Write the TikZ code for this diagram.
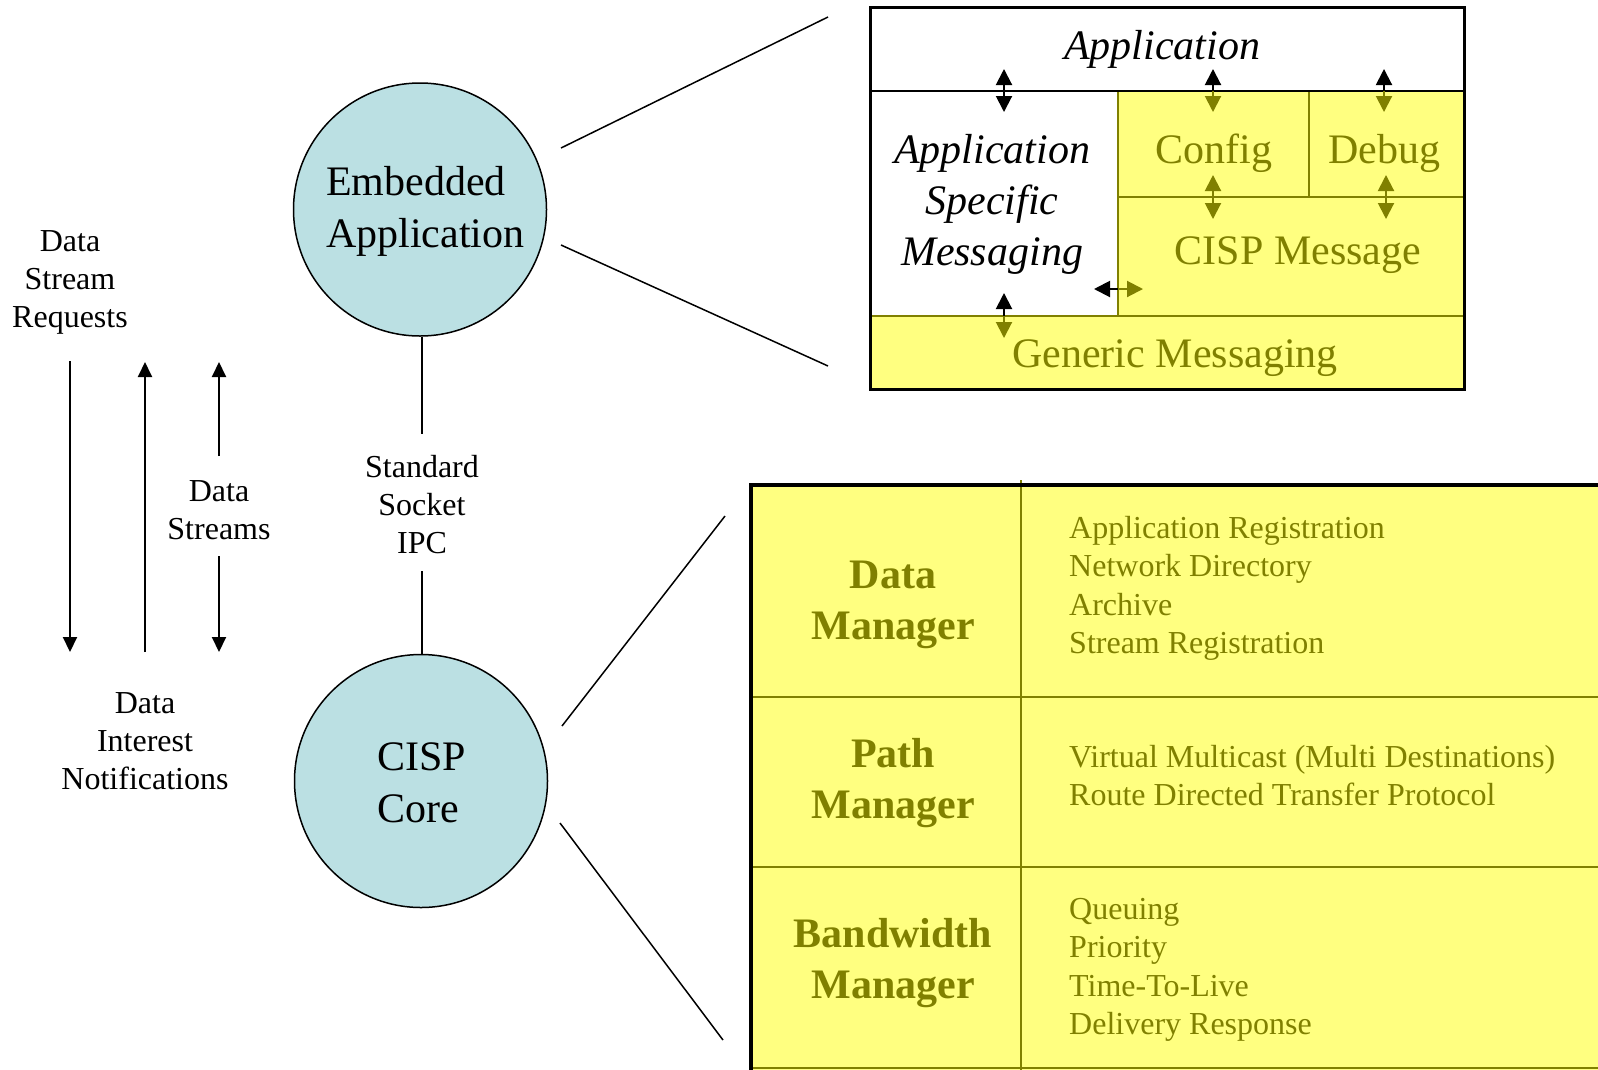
\documentclass[tikz,border=0pt]{standalone}
\usepackage{fontspec}
\setmainfont{Liberation Serif}
\usetikzlibrary{arrows.meta}

\definecolor{olivetext}{RGB}{128,128,0}
\definecolor{paleyellow}{RGB}{255,255,128}
\definecolor{paleblue}{RGB}{187,224,227}

\tikzset{
  lbl/.style={inner sep=0pt, align=center, font=\fontsize{32}{38}\selectfont},
  big/.style={inner sep=0pt, align=center, font=\fontsize{42}{51}\selectfont},
  bigit/.style={big, font=\fontsize{42}{51}\selectfont\itshape},
  olivebig/.style={big, text=olivetext},
  mgr/.style={inner sep=0pt, align=center, text=olivetext, font=\fontsize{42}{51}\selectfont\bfseries},
  items/.style={inner sep=0pt, align=left, anchor=north west, text=olivetext, font=\fontsize{32}{38.5}\selectfont},
  bubble/.style={circle, draw=black, line width=1.5pt, fill=paleblue, minimum size=253pt, inner sep=0pt},
  bubbletext/.style={inner sep=0pt, align=left, font=\fontsize{42}{52}\selectfont},
  thin/.style={line width=1.5pt},
  flow/.style={line width=2pt, -{Triangle[width=14pt,length=15pt]}},
  small/.style={line width=2pt, -{Triangle[width=16pt,length=16pt]}},
  cellline/.style={draw=olivetext, line width=1.5pt},
}

\begin{document}
\begin{tikzpicture}[x=1pt, y=-1pt]
  \useasboundingbox (0,0) rectangle (1598,1069);
  \clip (0,0) rectangle (1598,1069);

  % ---------- the two processes ----------
  \node[bubble] (emb) at (420,209.5) {};
  \node[bubbletext, anchor=west] (embtxt) at (326,211) {Embedded\\Application};
  \node[bubble] (core) at (421,781) {};
  \node[bubbletext, anchor=west] (coretxt) at (377,783) {CISP\\Core};

  % socket link between them
  \node[lbl] (ipc) at (422,505) {Standard\\Socket\\IPC};
  \coordinate (ipctop) at (422,434);
  \coordinate (ipcbot) at (422,571);
  \draw[thin] (emb.south -| ipctop) -- (ipctop);
  \draw[thin] (ipcbot) -- (core.north -| ipcbot);

  % ---------- data flows on the left ----------
  \node[lbl] (dsr) at (70,282) {Data\\Stream\\Requests};
  \node[lbl] (dsn) at (219,510) {Data\\Streams};
  \node[lbl] (din) at (145,741) {Data\\Interest\\Notifications};

  \coordinate (r1) at (70,361);   \coordinate (r2) at (70,652);
  \coordinate (n1) at (145,652);  \coordinate (n2) at (145,362);
  \coordinate (s1) at (219,456);  \coordinate (s2) at (219,362);
  \coordinate (s3) at (219,556);  \coordinate (s4) at (219,652);
  \draw[flow] (r1) -- (r2);
  \draw[flow] (n1) -- (n2);
  \draw[flow] (s1) -- (s2);
  \draw[flow] (s3) -- (s4);

  % ---------- zoom lines ----------
  \coordinate (zt1) at (828,17);   \coordinate (zt2) at (828,366);
  \coordinate (zb1) at (725,516);  \coordinate (zb2) at (723,1040);
  \coordinate (ea1) at (561,148);  \coordinate (ea2) at (561,245);
  \coordinate (cc1) at (562,726);  \coordinate (cc2) at (560,823);
  \draw[thin] (ea1) -- (zt1);
  \draw[thin] (ea2) -- (zt2);
  \draw[thin] (cc1) -- (zb1);
  \draw[thin] (cc2) -- (zb2);

  % ---------- layered stack of the embedded application ----------
  \fill[paleyellow] (1118,91) rectangle (1464,316);
  \fill[paleyellow] (870,316) rectangle (1464,389);
  \draw[cellline] (1118,91) -- (1118,316);
  \draw[cellline] (1118,197) -- (1464,197);
  \draw[cellline] (1309,91) -- (1309,197);
  \draw[cellline] (870,316) -- (1464,316);
  \draw[black, line width=1.5pt] (870,91) -- (1464,91);
  \draw[black, line width=3pt] (870,7) rectangle (1464,389);

  \node[bigit] (app) at (1162,49) {Application};
  \node[bigit] (asm) at (992,204) {Application\\Specific\\Messaging};
  \node[olivebig] (cfg) at (1214,153) {Config};
  \node[olivebig] (dbg) at (1384,153) {Debug};
  \node[olivebig] (cmsg) at (1298,255) {CISP Message};
  \node[olivebig] (gen) at (1175,358) {Generic Messaging};

  % interface arrows between the layers
  \coordinate (a1) at (1004,91);
  \draw[small] (a1) -- ++(0,-22);
  \draw[small] (a1) -- ++(0,21);
  \coordinate (a2) at (1213,91);
  \draw[small] (a2) -- ++(0,-22);
  \draw[small, olivetext] (a2) -- ++(0,21);
  \coordinate (a3) at (1384,91);
  \draw[small] (a3) -- ++(0,-22);
  \draw[small, olivetext] (a3) -- ++(0,21);
  \coordinate (a4) at (1213,197);
  \draw[small, olivetext] (a4) -- ++(0,-22);
  \draw[small, olivetext] (a4) -- ++(0,22);
  \coordinate (a5) at (1386,197);
  \draw[small, olivetext] (a5) -- ++(0,-22);
  \draw[small, olivetext] (a5) -- ++(0,22);
  \coordinate (a6) at (1118,289);
  \draw[small] (a6) -- ++(-24,0);
  \draw[small, olivetext] (a6) -- ++(25,0);
  \coordinate (a7) at (1004,316);
  \draw[small] (a7) -- ++(0,-23);
  \draw[small, olivetext] (a7) -- ++(0,22);

  % ---------- managers of the CISP core ----------
  \fill[paleyellow] (751,485) rectangle (1620,1090);
  \draw[cellline] (1021,480) -- (1021,1090);
  \draw[cellline] (751,697) -- (1620,697);
  \draw[cellline] (751,867) -- (1620,867);
  \draw[cellline] (751,1068) -- (1620,1068);
  \draw[black, line width=4pt] (751,1090) -- (751,485) -- (1620,485);

  \node[mgr] (dm) at (893,605) {Data\\Manager};
  \node[mgr] (pm) at (893,783) {Path\\Manager};
  \node[mgr] (bm) at (893,963) {Bandwidth\\Manager};

  \node[items] (dmi) at (1069,516) {Application Registration\\Network Directory\\Archive\\Stream Registration};
  \node[items] (pmi) at (1069,745) {Virtual Multicast (Multi Destinations)\\Route Directed Transfer Protocol};
  \node[items] (bmi) at (1069,898) {Queuing\\Priority\\Time-To-Live\\Delivery Response};
\end{tikzpicture}
\end{document}
